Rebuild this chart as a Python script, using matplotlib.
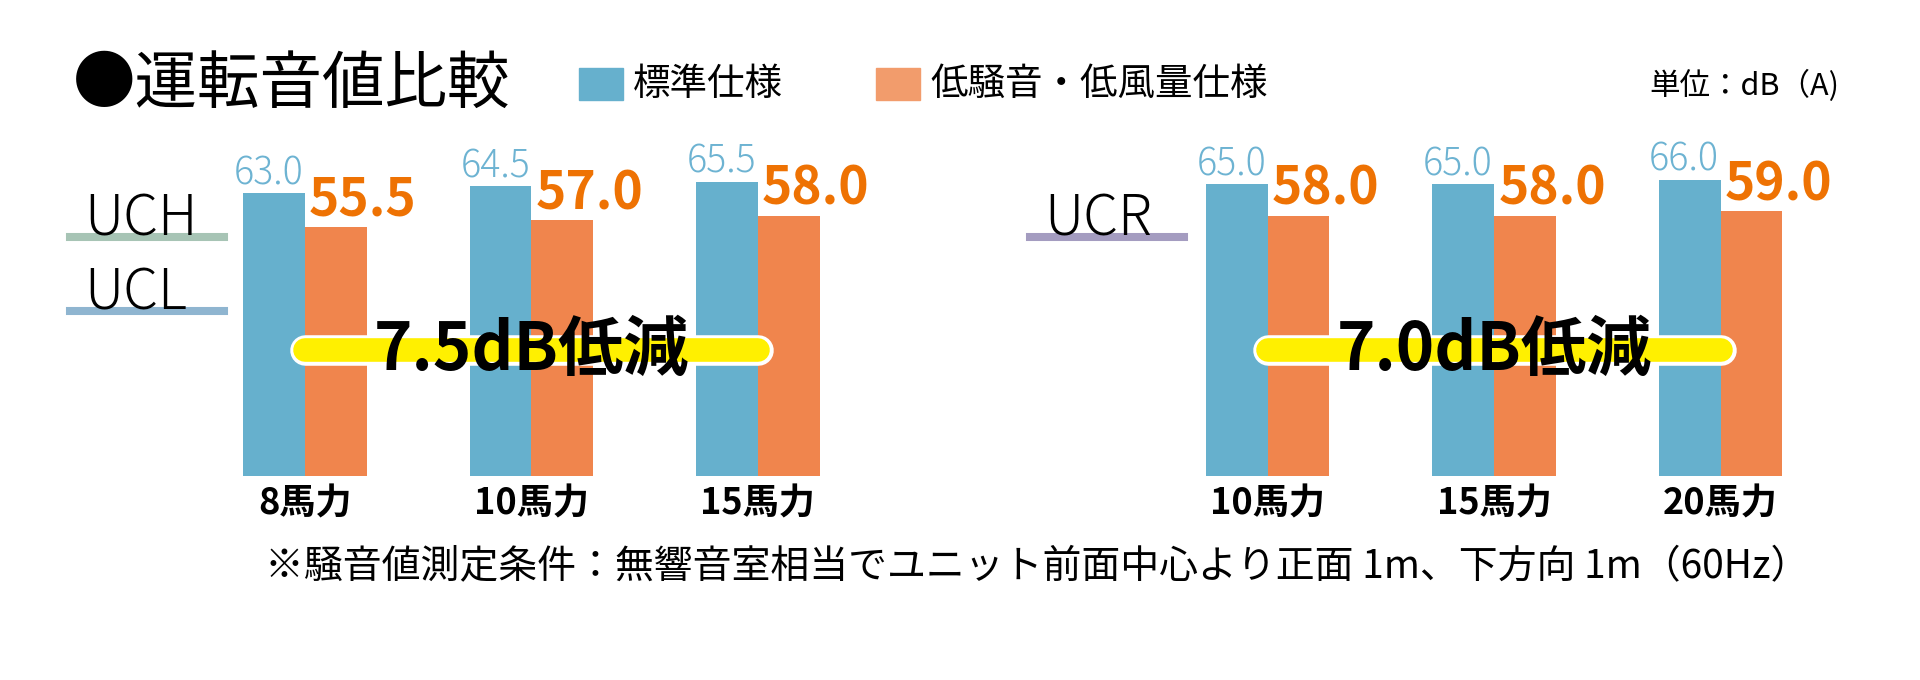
import numpy as np
import matplotlib.pyplot as plt
from matplotlib.patches import Rectangle
from matplotlib.lines import Line2D

plt.rcParams['font.family'] = ['Noto Sans CJK JP', 'DejaVu Sans']

# データ
categories = ['8馬力', '10馬力', '15馬力', '10馬力', '15馬力', '20馬力']
standard = [63.0, 64.5, 65.5, 65.0, 65.0, 66.0]
low_noise = [55.5, 57.0, 58.0, 58.0, 58.0, 59.0]
series_names = ['標準仕様', '低騒音・低風量仕様']
model_labels = ['UCH', 'UCL', 'UCR']
reductions = ['7.5dB低減', '7.0dB低減']
title = '●運転音値比較'
unit = '単位：dB（A)'
footnote = '※騒音値測定条件：無響音室相当でユニット前面中心より正面 1m、下方向 1m（60Hz）'

# 配置
xpos = np.array([0, 1, 2, 4.25, 5.25, 6.25])
groups = [[0, 1, 2], [3, 4, 5]]
stripe_y = 28

blue = '#66B0CD'
orange = '#F0854D'
blue_txt = '#6DB3D2'
orange_txt = '#EE7203'
legend_colors = ['#66B0CD', '#F29C6C']
model_colors = ['#A7C4B5', '#8FB5D0', '#A49CC0']

W, H = 1920, 680
fig = plt.figure(figsize=(W / 100, H / 100), dpi=100)

# 軸：1単位 = 226.5px, 1dB = 4.49px
ax = fig.add_axes([0, 204 / H, 1, 70 * 4.49 / H])
ax.set_xlim(-304.9 / 226.5, (W - 304.9) / 226.5)
ax.set_ylim(0, 70)
ax.axis('off')

bw = 61.8 / 226.5
ax.bar(xpos - bw / 2, standard, bw, color=blue, zorder=2)
ax.bar(xpos + bw / 2, low_noise, bw, color=orange, zorder=2)

for x, v in zip(xpos, standard):
    ax.annotate(f'{v:.1f}', (x, v), xytext=(-1, 0), textcoords='offset points',
                ha='right', va='bottom', fontsize=27, color=blue_txt,
                fontweight='light')
for x, v in zip(xpos, low_noise):
    ax.annotate(f'{v:.1f}', (x, v), xytext=(3, 0), textcoords='offset points',
                ha='left', va='bottom', fontsize=37, color=orange_txt,
                fontweight='bold')
for x, c in zip(xpos, categories):
    ax.annotate(c, (x, 0), xytext=(0, -7), textcoords='offset points',
                ha='center', va='top', fontsize=26, fontweight='bold')

# 黄色の帯
for g, r in zip(groups, reductions):
    xs = [xpos[g[0]], xpos[g[-1]]]
    ax.plot(xs, [stripe_y] * 2, color='white', lw=22, solid_capstyle='round', zorder=3)
    ax.plot(xs, [stripe_y] * 2, color='#FFF000', lw=17, solid_capstyle='round', zorder=4)
    ax.text(xpos[g[1]], stripe_y, r, ha='center', va='center', fontsize=47,
            fontweight='bold', zorder=5)

# 機種ラベル
model_pos = [(70, 237), (70, 311), (1030, 237)]
for (px, py), name, col in zip(model_pos, model_labels, model_colors):
    fig.add_artist(Line2D([px / W, (px + 154) / W], [1 - py / H] * 2,
                          color=col, lw=5.8, transform=fig.transFigure))
    fig.text((px + 14) / W, 1 - (py - 1) / H, name, fontsize=40,
             fontweight='light', va='baseline', zorder=5)

# タイトル・凡例・単位
fig.text(73 / W, 1 - 85 / H, title, fontsize=45, va='center')
for lx, name, col in zip([579, 876], series_names, legend_colors):
    fig.add_artist(Rectangle((lx / W, 1 - 100 / H), 44 / W, 32 / H,
                             color=col, transform=fig.transFigure))
    fig.text((lx + 54) / W, 1 - 84 / H, name, fontsize=27, va='center')
fig.text(1839 / W, 1 - 86 / H, unit, fontsize=22, va='center', ha='right')

fig.text(265 / W, 1 - 567 / H, footnote, fontsize=28, va='center')

fig.savefig('out.png', dpi=100)
